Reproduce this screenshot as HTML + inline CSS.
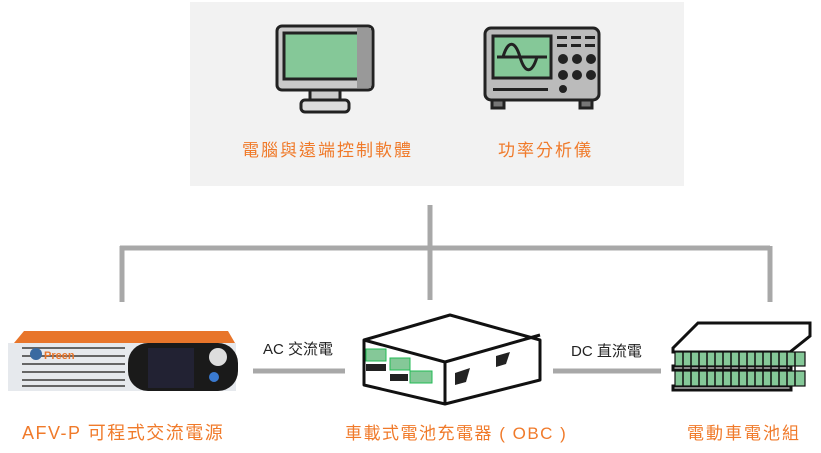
<!DOCTYPE html>
<html><head><meta charset="utf-8"><style>
body{margin:0;width:821px;height:453px;background:#fff;position:relative;overflow:hidden;font-family:"Liberation Sans","Noto Sans CJK TC",sans-serif}
.t{position:absolute;white-space:nowrap}
.o{color:#f07a2a;font-size:17px;letter-spacing:2px}
.k{color:#222;font-size:15px}
</style></head><body>
<div style="position:absolute;left:190px;top:2px;width:494px;height:184px;background:#f2f2f2"></div>
<svg width="821" height="453" style="position:absolute;left:0;top:0">
<g stroke="#a8a8a8" stroke-width="5" fill="none">
<path d="M430 205V300M120 248H770M122 246V302M770 246V302M253 371H345M553 371H661"/>
</g>
<g stroke="#222" stroke-width="3">
<rect x="277" y="26" width="96" height="64" rx="5" fill="#c9c9c9"/>
<rect x="284" y="33" width="82" height="46" fill="#85c898"/>
<rect x="357" y="28" width="14" height="60" fill="#999" stroke="none"/>
<rect x="310" y="90" width="30" height="10" fill="#ccc"/>
<rect x="301" y="100" width="48" height="12" rx="4" fill="#ddd"/>
</g>
<g stroke="#222" stroke-width="3">
<rect x="485" y="28" width="114" height="72" rx="6" fill="#bbb"/>
<rect x="493" y="36" width="58" height="42" fill="#85c898"/>
<path d="M497 57H547M503 57C508 40 515 40 520 57C525 74 532 74 537 57" fill="none"/>
<rect x="492" y="100" width="12" height="8" fill="#777"/><rect x="580" y="100" width="12" height="8" fill="#777"/>
</g>
<g fill="#222"><circle cx="563" cy="59" r="5"/><circle cx="577" cy="59" r="5"/><circle cx="591" cy="59" r="5"/><circle cx="563" cy="75" r="5"/><circle cx="577" cy="75" r="5"/><circle cx="591" cy="75" r="5"/><circle cx="563" cy="89" r="4"/>
<rect x="557" y="36" width="10" height="3"/><rect x="571" y="36" width="10" height="3"/><rect x="585" y="36" width="10" height="3"/>
<rect x="557" y="44" width="10" height="3"/><rect x="571" y="44" width="10" height="3"/><rect x="585" y="44" width="10" height="3"/>
<rect x="493" y="88" width="55" height="3"/></g>
<polygon points="14,343 24,331 228,331 235,343" fill="#e8752a"/>
<rect x="8" y="343" width="228" height="48" fill="#e6e9ed"/>
<g stroke="#666" stroke-width="2">
<path d="M22 348H125M22 356H125M22 364H125M22 372H125M22 380H125M22 386H125"/>
</g>
<rect x="128" y="343" width="110" height="48" rx="20" fill="#1a1a1a"/>
<rect x="148" y="348" width="46" height="40" fill="#223"/>
<circle cx="218" cy="357" r="9" fill="#ddd"/><circle cx="214" cy="377" r="5" fill="#3a7ad0"/>
<circle cx="36" cy="354" r="6" fill="#3a6aa0"/>
<text x="44" y="359" font-size="11" font-weight="bold" fill="#e8752a" font-family="Liberation Sans">Preen</text>
<g stroke="#111" stroke-width="3" fill="#fff" stroke-linejoin="round">
<polygon points="364,340 450,315 540,340 540,380 445,404 364,385"/>
<path d="M364,340 L445,362 L540,335 M445,362 V404" fill="none"/>
</g>
<g fill="#85c898" stroke="#2b5" stroke-width="1"><rect x="366" y="349" width="20" height="12"/><rect x="390" y="358" width="20" height="12"/><rect x="410" y="371" width="22" height="12"/></g>
<g fill="#222"><rect x="366" y="364" width="20" height="7"/><rect x="390" y="374" width="18" height="7"/><polygon points="455,373 470,368 466,382 455,385"/><polygon points="496,356 510,352 506,364 496,367"/></g>
<g stroke="#111" stroke-width="3" fill="#fff">
<polygon points="673,348 698,323 810,323 810,336 790,352 673,352"/>
<rect x="673" y="366" width="118" height="4"/>
<rect x="673" y="386" width="118" height="4"/>
</g>
<g fill="#85c898" stroke="#111" stroke-width="1.2">
<rect x="675" y="352" width="130" height="14"/><rect x="675" y="371" width="130" height="15"/>
</g>
<g stroke="#111" stroke-width="1.5"><path d="M683 352V386M691 352V386M699 352V386M707 352V386M715 352V386M723 352V386M731 352V386M739 352V386M747 352V386M755 352V386M763 352V386M771 352V386M779 352V386M787 352V386M795 352V386"/></g>
</svg>
<div class="t o" style="left:242px;top:136px">電腦與遠端控制軟體</div>
<div class="t o" style="left:498px;top:136px">功率分析儀</div>
<div class="t k" style="left:263px;top:338px">AC 交流電</div>
<div class="t k" style="left:571px;top:340px">DC 直流電</div>
<div class="t o" style="left:22px;top:419px;font-size:18px;letter-spacing:1.5px">AFV-P 可程式交流電源</div>
<div class="t o" style="left:345px;top:419px;letter-spacing:1.5px">車載式電池充電器 ( OBC )</div>
<div class="t o" style="left:687px;top:419px;letter-spacing:2px">電動車電池組</div>
</body></html>
